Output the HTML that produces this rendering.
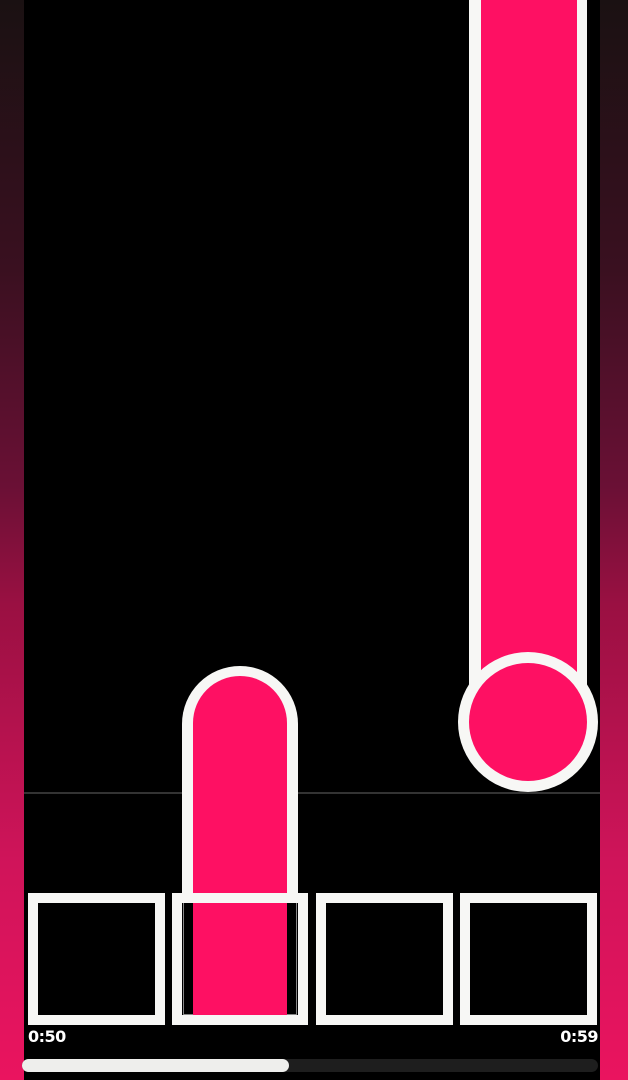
<!DOCTYPE html>
<html><head><meta charset="utf-8"><style>
html,body{margin:0;padding:0;background:#000;}
#game{position:relative;width:628px;height:1080px;background:#000;overflow:hidden;font-family:"Liberation Sans",sans-serif;}
.side{position:absolute;top:0;height:1080px;background:linear-gradient(#1a1112 0%,#3a1020 25%,#6a1035 45%,#9a1042 56%,#d0145a 80%,#ea145f 100%);}
.abs{position:absolute;box-sizing:border-box;}
.pink{background:#fe1063;}
.box{position:absolute;top:893px;height:132px;border:10px solid #f7f7f5;background:#000;box-sizing:border-box;}
.time{position:absolute;top:1027px;color:#fff;font-weight:bold;font-size:16px;font-family:"DejaVu Sans","Liberation Sans",sans-serif;letter-spacing:-0.5px;}
</style></head><body>
<div id="game">
<div class="side" style="left:0;width:24px"></div>
<div class="side" style="left:600px;width:28px"></div>
<div class="abs" style="left:24px;top:792px;width:576px;height:2px;background:#333"></div>

<div class="abs" style="left:182px;top:666px;width:116px;height:240px;background:#f7f7f5;border-radius:58px 58px 0 0"></div>
<div class="abs pink" style="left:193px;top:676px;width:94px;height:240px;border-radius:47px 47px 0 0"></div>

<div class="abs" style="left:469px;top:0;width:118px;height:700px;background:#f7f7f5"></div>
<div class="abs pink" style="left:481px;top:0;width:96px;height:700px"></div>
<div class="abs" style="left:458px;top:652px;width:140px;height:140px;border-radius:50%;background:#f7f7f5"></div>
<div class="abs pink" style="left:469px;top:663px;width:118px;height:118px;border-radius:50%"></div>

<div class="box" style="left:28px;width:137px"></div>
<div class="box" style="left:172px;width:136px">
  <div class="abs" style="left:1px;top:0;width:114px;height:112px;border-left:1px solid #888;border-right:1px solid #888;border-bottom:1px solid #888"></div>
  <div class="abs pink" style="left:11px;top:0;width:94px;height:112px"></div>
</div>
<div class="box" style="left:316px;width:137px"></div>
<div class="box" style="left:460px;width:137px"></div>

<div class="time" style="left:28px">0:50</div>
<div class="time" style="right:30px">0:59</div>

<div class="abs" style="left:22px;top:1059px;width:576px;height:13px;border-radius:7px;background:#1e1e1e"></div>
<div class="abs" style="left:22px;top:1059px;width:267px;height:13px;border-radius:7px;background:#eeeeec"></div>
</div>
</body></html>
